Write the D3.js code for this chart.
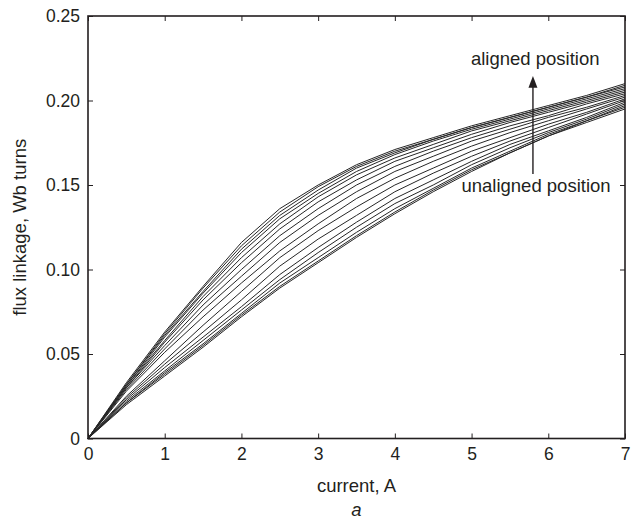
<!DOCTYPE html>
<html><head><meta charset="utf-8">
<script src="https://cdn.jsdelivr.net/npm/d3@7"></script>
<style>
body{margin:0;background:#fff;}
text{font-family:"Liberation Sans",Arial,Helvetica,sans-serif;fill:#231f20;}
</style></head>
<body><svg id="chart" width="641" height="526"></svg>
<script>
// current, A
const current = [0,0.5,1,1.5,2,2.5,3,3.5,4,4.5,5,5.5,6,6.5,7];
// flux linkage (Wb turns) for rotor positions from aligned (pos00) to unaligned (pos15)
const pos00 = [0,0.033,0.063,0.090,0.116,0.136,0.150,0.162,0.171,0.178,0.185,0.191,0.197,0.203,0.210];
const pos01 = [0,0.032,0.062,0.089,0.114,0.134,0.149,0.161,0.170,0.177,0.184,0.190,0.196,0.202,0.209];
const pos02 = [0,0.032,0.061,0.087,0.112,0.132,0.147,0.160,0.169,0.177,0.184,0.190,0.196,0.202,0.208];
const pos03 = [0,0.031,0.060,0.086,0.110,0.130,0.145,0.158,0.168,0.176,0.183,0.189,0.195,0.201,0.207];
const pos04 = [0,0.031,0.058,0.084,0.107,0.127,0.143,0.156,0.166,0.174,0.182,0.188,0.194,0.200,0.206];
const pos05 = [0,0.030,0.057,0.082,0.104,0.124,0.140,0.153,0.164,0.172,0.180,0.187,0.193,0.199,0.205];
const pos06 = [0,0.030,0.055,0.079,0.100,0.120,0.136,0.150,0.161,0.170,0.178,0.185,0.191,0.198,0.204];
const pos07 = [0,0.029,0.053,0.076,0.096,0.116,0.132,0.146,0.158,0.167,0.176,0.183,0.190,0.196,0.203];
const pos08 = [0,0.028,0.051,0.072,0.092,0.111,0.127,0.142,0.154,0.164,0.173,0.181,0.188,0.195,0.202];
const pos09 = [0,0.025,0.046,0.067,0.087,0.107,0.123,0.137,0.150,0.160,0.170,0.178,0.186,0.193,0.201];
const pos10 = [0,0.024,0.044,0.063,0.082,0.102,0.118,0.132,0.146,0.157,0.167,0.176,0.184,0.192,0.200];
const pos11 = [0,0.023,0.042,0.060,0.078,0.097,0.113,0.128,0.142,0.153,0.164,0.174,0.182,0.190,0.199];
const pos12 = [0,0.022,0.040,0.058,0.076,0.094,0.110,0.125,0.139,0.150,0.162,0.172,0.181,0.189,0.198];
const pos13 = [0,0.021,0.039,0.056,0.074,0.092,0.107,0.122,0.136,0.148,0.160,0.170,0.180,0.188,0.197];
const pos14 = [0,0.021,0.038,0.055,0.073,0.090,0.105,0.120,0.134,0.147,0.159,0.169,0.179,0.188,0.196];
const pos15 = [0,0.020,0.037,0.054,0.072,0.089,0.104,0.119,0.133,0.146,0.158,0.169,0.179,0.187,0.195];
const positions = [pos00,pos01,pos02,pos03,pos04,pos05,pos06,pos07,pos08,pos09,pos10,pos11,pos12,pos13,pos14,pos15];

const xTicks = [0,1,2,3,4,5,6,7];
const yTicks = [0,0.05,0.10,0.15,0.20,0.25];
const yTickLabels = ["0","0.05","0.10","0.15","0.20","0.25"];
const xTitle = "current, A";
const yTitle = "flux linkage, Wb turns";
const caption = "a";
const alignedLabel = "aligned position";
const unalignedLabel = "unaligned position";

const L = 88, R = 625, T = 16, B = 438.5;
const svg = d3.select("#chart");
const x = d3.scaleLinear().domain([0,7]).range([L,R]);
const y = d3.scaleLinear().domain([0,0.25]).range([B,T]);

const line = d3.line().x((d,i)=>x(current[i])).y(d=>y(d));
svg.append("g").selectAll("path").data(positions).join("path")
  .attr("d", line).attr("fill","none").attr("stroke","#262626").attr("stroke-width",1);

const tl = 5;
const fs = 17.5;
const fs2 = 18.5;
// bottom axis
const xb = svg.append("g").attr("transform",`translate(0,${B})`)
  .call(d3.axisBottom(x).tickValues(xTicks).tickSize(-tl).tickPadding(9).tickFormat(d3.format("d")));
const xt = svg.append("g").attr("transform",`translate(0,${T})`)
  .call(d3.axisTop(x).tickValues(xTicks).tickSize(-tl).tickFormat(""));
const yl = svg.append("g").attr("transform",`translate(${L},0)`)
  .call(d3.axisLeft(y).tickValues(yTicks).tickSize(-tl).tickPadding(8).tickFormat((d,i)=>yTickLabels[i]));
const yr = svg.append("g").attr("transform",`translate(${R},0)`)
  .call(d3.axisRight(y).tickValues(yTicks).tickSize(-tl).tickFormat(""));
[xb,xt,yl,yr].forEach(g=>{
  g.select(".domain").remove();
  g.selectAll(".tick line").attr("stroke","#231f20").attr("stroke-width",1);
  g.selectAll("text").attr("font-size",fs).style("font-family","'Liberation Sans',Arial,sans-serif").attr("fill","#231f20");
});
svg.append("rect").attr("x",L).attr("y",T).attr("width",R-L).attr("height",B-T)
  .attr("fill","none").attr("stroke","#231f20").attr("stroke-width",1.6);

svg.append("text").attr("x",(L+R)/2).attr("y",492).attr("text-anchor","middle").attr("font-size",fs2).text(xTitle);
svg.append("text").attr("transform",`translate(26,${(T+B)/2}) rotate(-90)`).attr("text-anchor","middle").attr("font-size",fs2).text(yTitle);
svg.append("text").attr("x",(L+R)/2).attr("y",516).attr("text-anchor","middle").attr("font-size",fs2).attr("font-style","italic").text(caption);

// annotation arrow from unaligned to aligned
const ax = x(5.8);
svg.append("line").attr("x1",ax).attr("x2",ax).attr("y1",y(0.1565)).attr("y2",y(0.2085))
  .attr("stroke","#231f20").attr("stroke-width",1.4);
svg.append("path").attr("d",`M${ax},${y(0.2145)} L${ax-4.5},${y(0.2075)} L${ax+4.5},${y(0.2075)} Z`).attr("fill","#231f20");
svg.append("text").attr("x",x(5.83)).attr("y",y(0.221)).attr("text-anchor","middle").attr("font-size",fs2).text(alignedLabel);
svg.append("text").attr("x",x(5.84)).attr("y",y(0.146)).attr("text-anchor","middle").attr("font-size",fs2).text(unalignedLabel);
</script></body></html>
